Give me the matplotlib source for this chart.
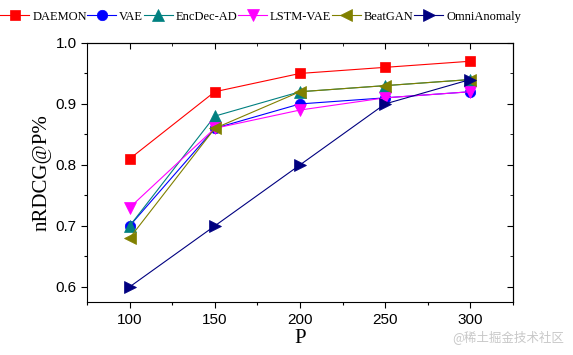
import matplotlib.pyplot as plt
from matplotlib.ticker import MultipleLocator

# P-verdier og nRDCG@P% for hver metode
p_verdier = [100, 150, 200, 250, 300]
daemon = [0.81, 0.92, 0.95, 0.96, 0.97]
vae = [0.70, 0.86, 0.90, 0.91, 0.92]
encdec_ad = [0.70, 0.88, 0.92, 0.93, 0.94]
lstm_vae = [0.73, 0.86, 0.89, 0.91, 0.92]
beatgan = [0.68, 0.86, 0.92, 0.93, 0.94]
omni_anomaly = [0.60, 0.70, 0.80, 0.90, 0.94]

serier = [
    ("DAEMON", daemon, "#ff0000", "s", 7),
    ("VAE", vae, "#0000ff", "o", 7.5),
    ("EncDec-AD", encdec_ad, "#008080", "^", 8.5),
    ("LSTM-VAE", lstm_vae, "#ff00ff", "v", 8.5),
    ("BeatGAN", beatgan, "#808000", "<", 8.5),
    ("OmniAnomaly", omni_anomaly, "#000080", ">", 8.5),
]

serif = ["Liberation Serif", "DejaVu Serif"]
sans = ["Liberation Sans", "DejaVu Sans"]

fig = plt.figure(figsize=(5.73, 3.55), dpi=100)
ax = fig.add_axes([0.152, 0.149, 0.743, 0.73])

for navn, verdier, farge, markor, str_ in serier:
    ax.plot(p_verdier, verdier, color=farge, marker=markor, markersize=str_,
            linewidth=0.8, label=navn, markeredgewidth=0.5)

ax.set_xlim(75, 325)
ax.set_ylim(0.575, 1.0)
ax.xaxis.set_major_locator(MultipleLocator(50))
ax.xaxis.set_minor_locator(MultipleLocator(25))
ax.yaxis.set_major_locator(MultipleLocator(0.1))
ax.yaxis.set_minor_locator(MultipleLocator(0.05))
ax.tick_params(which="major", direction="out", length=4, width=0.8, labelsize=11)
ax.tick_params(which="minor", direction="out", length=2.5, width=0.8)
for lab in ax.get_xticklabels() + ax.get_yticklabels():
    lab.set_family(sans)
ax.yaxis.set_major_formatter(plt.FormatStrFormatter("%.1f"))

# topp og hoyre akse med ticks innover
topp = ax.secondary_xaxis("top")
topp.xaxis.set_major_locator(MultipleLocator(50))
topp.xaxis.set_minor_locator(MultipleLocator(25))
topp.tick_params(which="both", direction="in", labeltop=False)
topp.tick_params(which="major", length=4)
topp.tick_params(which="minor", length=2.5)
hoyre = ax.secondary_yaxis("right")
hoyre.yaxis.set_major_locator(MultipleLocator(0.1))
hoyre.yaxis.set_minor_locator(MultipleLocator(0.05))
hoyre.tick_params(which="both", direction="in", labelright=False)
hoyre.tick_params(which="major", length=4)
hoyre.tick_params(which="minor", length=2.5)

ax.set_xlabel("P", family=serif, fontsize=15, labelpad=2)
ax.set_ylabel("nRDCG@P%", family=serif, fontsize=15, labelpad=3)

fig.legend(loc="center", bbox_to_anchor=(0.455, 0.953), ncol=6, frameon=False,
           prop={"family": serif, "size": 9}, handlelength=2.3,
           handletextpad=0.25, columnspacing=0.05, borderpad=0)

fig.text(0.79, 0.04, "@稀土掘金技术社区", color="#c8c8c8", fontsize=9,
         family=["Noto Sans CJK SC", "DejaVu Sans"])

fig.savefig("out.png", dpi=100)
